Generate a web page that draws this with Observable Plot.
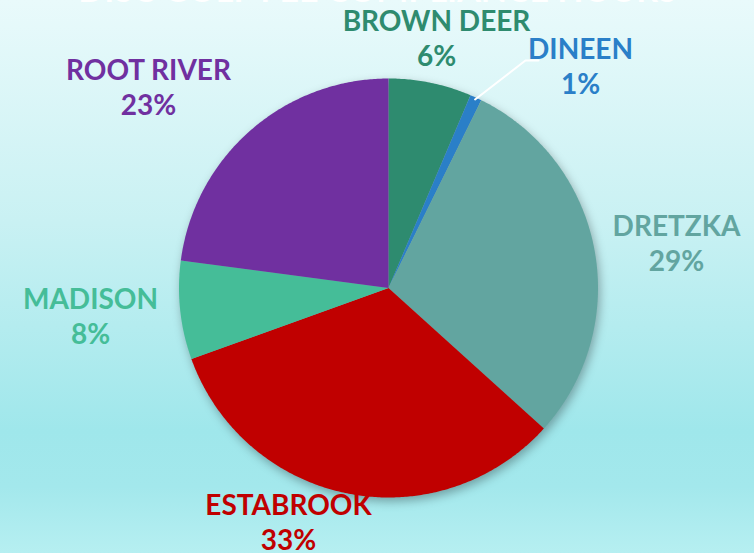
<!DOCTYPE html>
<html>
<head>
<meta charset="utf-8">
<script src="https://cdn.jsdelivr.net/npm/d3@7"></script>
<script src="https://cdn.jsdelivr.net/npm/@observablehq/plot@0.6"></script>
<style>
  html, body { margin: 0; padding: 0; }
  #chart {
    width: 754px; height: 553px; overflow: hidden;
    background: linear-gradient(to bottom, #e9fafb 0%, #c9f1f3 40%, #9fe7eb 78%, #a3e8ec 88%, #b6eff1 100%);
  }
  #chart svg { background: transparent; display: block; }
  #chart svg g.pie { filter: drop-shadow(2px 4px 5px rgba(0,0,0,0.3)); }
</style>
</head>
<body>
<div id="chart"></div>
<script>
// ---- data ----
const names = ["BROWN DEER", "DINEEN", "DRETZKA", "ESTABROOK", "MADISON", "ROOT RIVER"];
const shares = [6.4, 0.9, 29.4, 32.8, 7.6, 22.9];   // percent (labels show rounded values)
const colors = ["#2e8b6f", "#2a7fc8", "#62a5a0", "#c00000", "#45bd98", "#7030a0"];
const title = "DISC GOLF FEE COMPLIANCE HOURS";

// ---- layout (pixels) ----
const W = 754, H = 553;
const cx = 388, cy = 287.5, r = 209.5;
// label anchor (centre of the two-line label block)
const labelPos = [[436, 37], [580, 65], [676, 242], [288, 521], [90, 315], [148, 86]];

const pie = d3.pie().sort(null).value(d => d.value).startAngle(0).endAngle(2 * Math.PI);
const rows = names.map((n, i) => ({name: n, value: shares[i]}));
const arcs = pie(rows);

const pt = (a, rad) => [cx + rad * Math.sin(a), cy - rad * Math.cos(a)];

// polygon vertices of each slice, derived from pie angles
const slicePts = [];
arcs.forEach(a => {
  const n = Math.max(2, Math.ceil((a.endAngle - a.startAngle) / (Math.PI / 360)));
  slicePts.push({name: a.data.name, x: cx, y: cy});
  for (let k = 0; k <= n; k++) {
    const ang = a.startAngle + (a.endAngle - a.startAngle) * k / n;
    const [x, y] = pt(ang, r);
    slicePts.push({name: a.data.name, x, y});
  }
  slicePts.push({name: a.data.name, x: cx, y: cy});
});

const labels = arcs.map((a, i) => ({
  name: a.data.name,
  x: labelPos[i][0], y: labelPos[i][1],
  text: a.data.name + "\n" + Math.round(a.data.value) + "%"
}));

// leader line for the small DINEEN slice
const di = arcs[1];
const mid = (di.startAngle + di.endAngle) / 2;
const [lx0, ly0] = pt(mid, r - 2);
const dl = labelPos[1];
const leader = [
  {x: lx0, y: ly0},
  {x: dl[0] - 55, y: dl[1] - 5},
  {x: dl[0] - 42, y: dl[1] - 5}
];

const plot = Plot.plot({
  width: W, height: H,
  margin: 0,
  style: {background: "transparent"},
  x: {domain: [0, W], range: [0, W], axis: null},
  y: {domain: [0, H], range: [0, H], axis: null},
  color: {domain: names, range: colors},
  marks: [
    Plot.line(slicePts, {x: "x", y: "y", z: "name", fill: "name", stroke: "none", className: "pie"}),
    Plot.line(leader, {x: "x", y: "y", stroke: "white", strokeWidth: 2}),
    Plot.text(labels, {
      x: "x", y: "y", text: "text", fill: "name",
      fontSize: 28, fontWeight: 700, fontFamily: "Lato, sans-serif",
      lineHeight: 1.22, textAnchor: "middle", letterSpacing: 0.4
    }),
    Plot.text([title], {
      x: () => W / 2, y: () => -9, text: d => d,
      fill: "white", fontSize: 34, fontWeight: 700, fontFamily: "Lato, sans-serif",
      textAnchor: "middle", letterSpacing: 4
    })
  ]
});
document.getElementById("chart").appendChild(plot);
</script>
</body>
</html>
